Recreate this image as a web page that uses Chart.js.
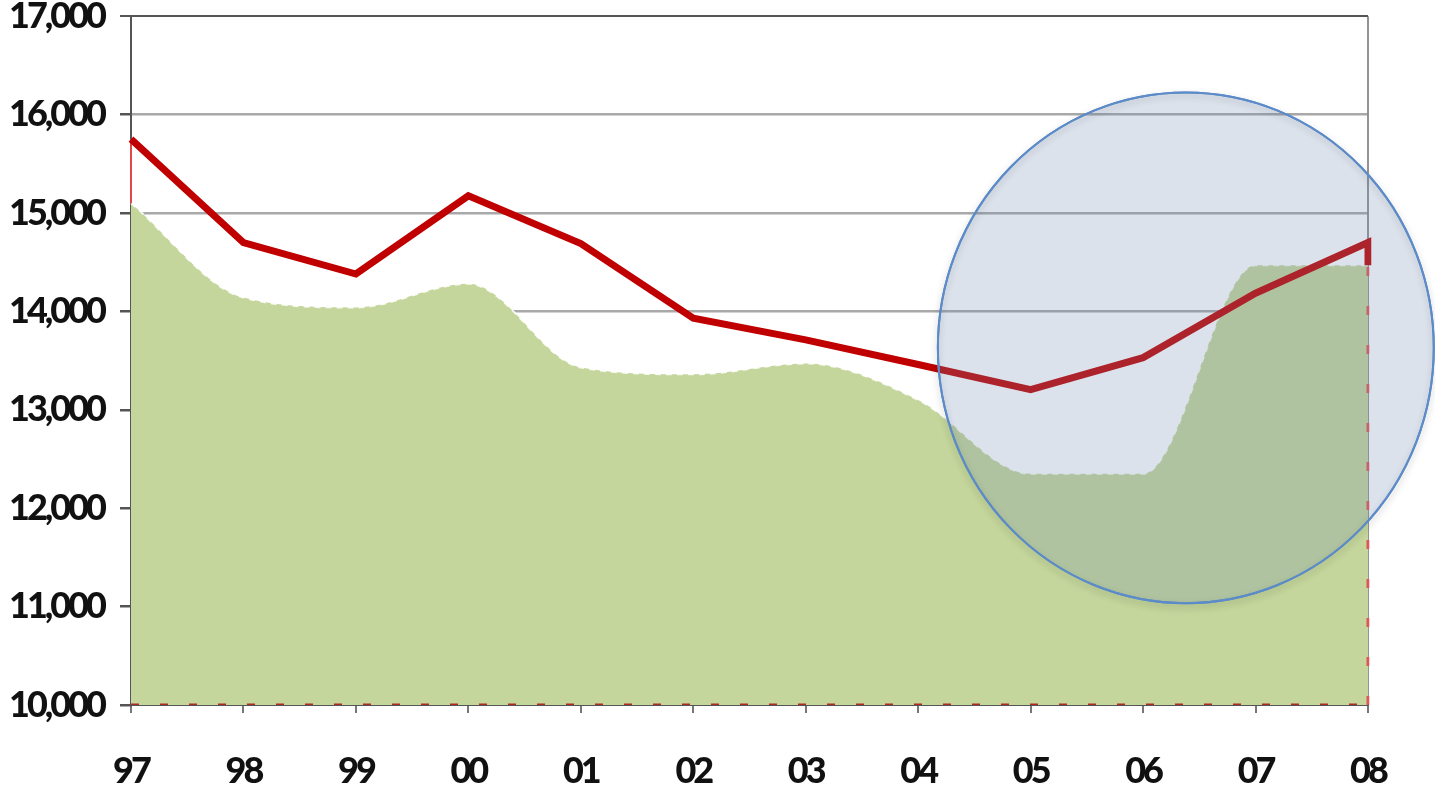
<!DOCTYPE html>
<html>
<head>
<meta charset="utf-8">
<script src="https://cdn.jsdelivr.net/npm/chart.js@4.4.1/dist/chart.umd.min.js"></script>
<style>
  html, body { margin: 0; padding: 0; background: #ffffff; }
  #wrap { width: 1435px; height: 792px; position: relative; }
</style>
</head>
<body>
<div id="wrap"><canvas id="c"></canvas></div>
<script>
// ---- data ----
const categories = ['97','98','99','00','01','02','03','04','05','06','07','08'];
const lineValues = [15750, 14700, 14380, 15175, 14690, 13930, 13710, 13460, 13205, 13530, 14185, 14700];
const areaValues = [15100, 14140, 14040, 14280, 13430, 13360, 13470, 13100, 12350, 12350, 14470, 14470];
const yTicks = [10000, 11000, 12000, 13000, 14000, 15000, 16000, 17000];
const yMin = 10000, yMax = 17000;

// highlight ellipse (in data units: category index / value)
const highlight = { xIndex: 9.38, y: 13630, rx: 2.205, ry: 2595 };

const firstCat = categories[0];
const lastCat = categories[categories.length - 1];

const lineData = categories.map((c, i) => ({ x: c, y: lineValues[i] }));
lineData.push({ x: lastCat, y: areaValues[areaValues.length - 1] });

const spacingPlugin = {
  id: 'spacing',
  beforeUpdate(chart) { chart.ctx.letterSpacing = '-3px'; },
  beforeDraw(chart) { chart.ctx.letterSpacing = '-3px'; }
};

const ellipsePlugin = {
  id: 'ellipse',
  afterDraw(chart) {
    const { ctx, scales } = chart;
    const cx = scales.x.getPixelForValue(highlight.xIndex);
    const cy = scales.y.getPixelForValue(highlight.y);
    const rx = Math.abs(scales.x.getPixelForValue(highlight.xIndex + highlight.rx) - cx);
    const ry = Math.abs(scales.y.getPixelForValue(highlight.y + highlight.ry) - cy);
    ctx.save();
    // soft outer shadow (stroke only, so it does not tint the interior)
    ctx.beginPath();
    ctx.ellipse(cx, cy, rx, ry, 0, 0, Math.PI * 2);
    ctx.shadowColor = 'rgba(0,0,0,0.28)';
    ctx.shadowBlur = 7;
    ctx.shadowOffsetY = 3;
    ctx.lineWidth = 2;
    ctx.strokeStyle = '#5b8bc8';
    ctx.stroke();
    ctx.shadowColor = 'rgba(0,0,0,0)';
    ctx.shadowBlur = 0;
    ctx.shadowOffsetY = 0;
    ctx.fillStyle = 'rgba(117,140,176,0.25)';
    ctx.fill();
    ctx.stroke();
    ctx.restore();
  }
};

new Chart(document.getElementById('c'), {
  type: 'line',
  data: {
    labels: categories,
    datasets: [
      {
        label: 'area',
        data: areaValues,
        fill: 'start',
        backgroundColor: '#c4d69b',
        borderColor: 'rgba(255,255,255,0.85)',
        borderWidth: 2,
        borderDash: [6, 5],
        cubicInterpolationMode: 'monotone',
        pointRadius: 0,
        order: 5
      },
      {
        label: 'baseline',
        data: categories.map(() => yMin),
        borderColor: '#b02828',
        borderWidth: 3,
        borderDash: [8, 21],
        pointRadius: 0,
        fill: false,
        order: 4
      },
      {
        label: 'rightEdge',
        data: [{ x: lastCat, y: yMin }, { x: lastCat, y: areaValues[areaValues.length - 1] }],
        borderColor: '#e05555',
        borderWidth: 3,
        borderDash: [9, 30],
        pointRadius: 0,
        fill: false,
        order: 3
      },
      {
        label: 'leftEdge',
        data: [{ x: firstCat, y: areaValues[0] }, { x: firstCat, y: lineValues[0] }],
        borderColor: '#e04848',
        borderWidth: 2,
        pointRadius: 0,
        fill: false,
        order: 2
      },
      {
        label: 'line',
        data: lineData,
        borderColor: '#c00000',
        borderWidth: 7,
        borderJoinStyle: 'miter',
        pointRadius: 0,
        tension: 0,
        fill: false,
        order: 1
      }
    ]
  },
  options: {
    responsive: true,
    maintainAspectRatio: false,
    animation: false,
    events: [],
    layout: { padding: { left: 0, right: 67, top: 16, bottom: 0 } },
    plugins: { legend: { display: false }, tooltip: { enabled: false } },
    scales: {
      x: {
        type: 'category',
        offset: false,
        afterFit: (scale) => { scale.height = 87; },
        border: { display: true, color: '#555', width: 2 },
        grid: {
          drawOnChartArea: true,
          color: (ctx) => ctx.index === categories.length - 1 ? 'rgba(120,120,120,0.8)' : 'rgba(0,0,0,0)',
          lineWidth: 2,
          tickColor: '#777',
          tickLength: 8
        },
        ticks: {
          color: '#111',
          font: { family: 'Lato', weight: 900, size: 36 },
          padding: 37,
          maxRotation: 0,
          autoSkip: false
        }
      },
      y: {
        min: yMin,
        max: yMax,
        afterFit: (scale) => { scale.width = 131; },
        afterBuildTicks: (axis) => { axis.ticks = yTicks.map(v => ({ value: v })); },
        border: { display: true, color: '#555', width: 2 },
        grid: {
          color: (ctx) => {
            const v = ctx.tick && ctx.tick.value;
            if (v === yMax) return '#555';
            if (v >= 14000) return 'rgba(140,140,140,0.75)';
            return 'rgba(0,0,0,0)';
          },
          lineWidth: (ctx) => (ctx.tick && ctx.tick.value === yMax) ? 2 : 2.5,
          tickColor: '#555',
          tickLength: 11
        },
        ticks: {
          color: '#111',
          font: { family: 'Lato', weight: 900, size: 36, lineHeight: 0.01 },
          padding: 16,
          callback: (v) => Number(v).toLocaleString('en-US')
        }
      }
    }
  },
  plugins: [spacingPlugin, ellipsePlugin]
});
</script>
</body>
</html>
